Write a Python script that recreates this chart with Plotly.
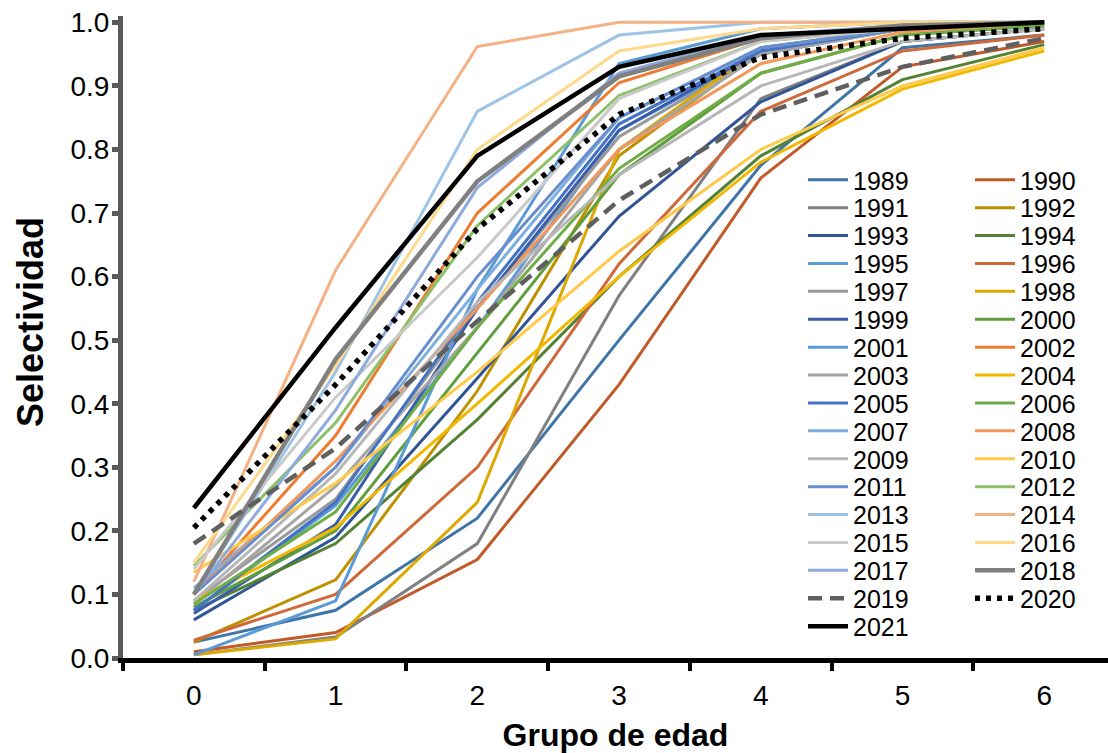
import plotly.graph_objects as go

# Age groups (x categories)
ages = ["0", "1", "2", "3", "4", "5", "6"]

# Selectivity by age group, one list per year
sel_1989 = [0.025, 0.075, 0.22, 0.50, 0.775, 0.96, 0.98]
sel_1990 = [0.010, 0.040, 0.155, 0.43, 0.755, 0.93, 0.97]
sel_1991 = [0.005, 0.033, 0.18, 0.57, 0.88, 0.97, 0.99]
sel_1992 = [0.025, 0.123, 0.42, 0.79, 0.955, 0.99, 1.0]
sel_1993 = [0.060, 0.19, 0.44, 0.695, 0.875, 0.97, 0.99]
sel_1994 = [0.075, 0.18, 0.375, 0.60, 0.79, 0.91, 0.965]
sel_1995 = [0.075, 0.24, 0.52, 0.83, 0.95, 0.99, 1.0]
sel_1996 = [0.028, 0.10, 0.30, 0.62, 0.86, 0.955, 0.98]
sel_1997 = [0.090, 0.25, 0.55, 0.82, 0.95, 0.99, 1.0]
sel_1998 = [0.005, 0.030, 0.245, 0.80, 0.96, 0.99, 1.0]
sel_1999 = [0.070, 0.21, 0.55, 0.83, 0.955, 0.99, 1.0]
sel_2000 = [0.080, 0.20, 0.48, 0.76, 0.92, 0.98, 0.995]
sel_2001 = [0.005, 0.09, 0.58, 0.935, 0.99, 1.0, 1.0]
sel_2002 = [0.100, 0.35, 0.70, 0.905, 0.975, 0.995, 1.0]
sel_2003 = [0.085, 0.27, 0.52, 0.80, 0.95, 0.99, 1.0]
sel_2004 = [0.090, 0.205, 0.40, 0.60, 0.78, 0.895, 0.955]
sel_2005 = [0.075, 0.245, 0.56, 0.84, 0.955, 0.99, 1.0]
sel_2006 = [0.085, 0.23, 0.52, 0.77, 0.92, 0.98, 0.995]
sel_2007 = [0.110, 0.30, 0.58, 0.85, 0.96, 0.99, 1.0]
sel_2008 = [0.100, 0.31, 0.55, 0.80, 0.935, 0.985, 1.0]
sel_2009 = [0.090, 0.29, 0.56, 0.76, 0.90, 0.97, 0.99]
sel_2010 = [0.135, 0.275, 0.45, 0.64, 0.80, 0.90, 0.96]
sel_2011 = [0.100, 0.30, 0.60, 0.85, 0.96, 0.99, 1.0]
sel_2012 = [0.145, 0.37, 0.68, 0.885, 0.97, 0.99, 1.0]
sel_2013 = [0.100, 0.45, 0.86, 0.98, 1.0, 1.0, 1.0]
sel_2014 = [0.120, 0.61, 0.962, 1.0, 1.0, 1.0, 1.0]
sel_2015 = [0.140, 0.41, 0.63, 0.88, 0.97, 0.99, 1.0]
sel_2016 = [0.150, 0.46, 0.80, 0.955, 0.99, 1.0, 1.0]
sel_2017 = [0.100, 0.39, 0.74, 0.92, 0.98, 0.995, 1.0]
sel_2018 = [0.100, 0.47, 0.75, 0.915, 0.975, 0.995, 1.0]
sel_2019 = [0.180, 0.33, 0.53, 0.72, 0.855, 0.93, 0.975]
sel_2020 = [0.205, 0.43, 0.675, 0.855, 0.945, 0.975, 0.99]
sel_2021 = [0.236, 0.52, 0.79, 0.93, 0.98, 0.99, 1.0]

years = list(range(1989, 2022))
values = [globals()[f"sel_{y}"] for y in years]

colors = {
    1989: "#3E75A8", 1990: "#C05A28", 1991: "#808080", 1992: "#BF9000",
    1993: "#2F5597", 1994: "#548235", 1995: "#5B9BD5", 1996: "#D0693A",
    1997: "#999999", 1998: "#DDA800", 1999: "#3A5DAE", 2000: "#5E9E3C",
    2001: "#5B9BD5", 2002: "#ED7D31", 2003: "#A5A5A5", 2004: "#F2B800",
    2005: "#4472C4", 2006: "#70AD47", 2007: "#7CAFDD", 2008: "#F1975A",
    2009: "#B7B7B7", 2010: "#FFC94A", 2011: "#698ED0", 2012: "#8CC168",
    2013: "#9DC3E6", 2014: "#F4B183", 2015: "#C9C9C9", 2016: "#FFD98A",
    2017: "#8FAADC", 2018: "#808080", 2019: "#5F5F5F", 2020: "#000000",
    2021: "#000000",
}

FONT = "Liberation Sans, Arial, sans-serif"

# Plot-area geometry (pixels) used to place the two-column legend rows
PLOT_TOP, PLOT_BOTTOM, PLOT_LEFT, PLOT_RIGHT = 16, 658, 123, 1108
ROW0_Y, ROW_STEP = 180, 27.9
LEG_TEXT_X = 853


def legend_name(row):
    return "legend" if row == 0 else f"legend{row + 1}"


fig = go.Figure()
for y, v in zip(years, values):
    width = 3
    dash = "solid"
    if y == 2018:
        width = 4.5
    elif y == 2019:
        width = 4.5
        dash = "14px,8px"
    elif y == 2020:
        width = 5.5
        dash = "5px,6px"
    elif y == 2021:
        width = 4.5
    row = (y - 1989) // 2
    fig.add_trace(go.Scatter(
        x=ages, y=v, mode="lines", name=str(y),
        line=dict(color=colors[y], width=width, dash=dash),
        legend=legend_name(row),
    ))

n_rows = (len(years) + 1) // 2
legends = {}
for row in range(n_rows):
    ypx = ROW0_Y + ROW_STEP * row
    legends[legend_name(row)] = dict(
        orientation="h",
        x=(LEG_TEXT_X - 50 - PLOT_LEFT) / (PLOT_RIGHT - PLOT_LEFT),
        y=(PLOT_BOTTOM - ypx) / (PLOT_BOTTOM - PLOT_TOP),
        xanchor="left", yanchor="middle",
        font=dict(family=FONT, size=25, color="#000000"),
        bgcolor="rgba(0,0,0,0)", borderwidth=0,
        entrywidth=112, entrywidthmode="pixels",
        itemwidth=40,
    )

fig.update_layout(
    width=1108, height=753,
    margin=dict(l=PLOT_LEFT, r=0, t=PLOT_TOP, b=753 - PLOT_BOTTOM,
                autoexpand=False),
    paper_bgcolor="white", plot_bgcolor="white",
    font=dict(family=FONT, size=26, color="#000000"),
    xaxis=dict(
        type="category", range=[-0.5, 6.45],
        tickson="boundaries", ticks="outside", ticklen=8, tickwidth=4,
        tickcolor="#000000",
        showline=True, linecolor="#000000", linewidth=5,
        showgrid=False, zeroline=False,
        tickfont=dict(family=FONT, size=28, color="#000000"),
        ticklabelstandoff=8,
        title=dict(text="<b>Grupo de edad</b>", font=dict(family=FONT, size=32),
                   standoff=24),
    ),
    yaxis=dict(
        range=[0, 1.01], tickvals=[i / 10 for i in range(11)],
        ticktext=[f"{i / 10:.1f}" for i in range(11)],
        ticks="outside", ticklen=6, tickwidth=5, tickcolor="#595959",
        showline=True, linecolor="#595959", linewidth=5,
        showgrid=False, zeroline=False,
        tickfont=dict(family=FONT, size=28, color="#000000"),
        ticklabelstandoff=-3,
    ),
    annotations=[dict(
        text="<b>Selectividad</b>", textangle=-90,
        xref="paper", yref="paper",
        x=(30 - PLOT_LEFT) / (PLOT_RIGHT - PLOT_LEFT),
        y=(PLOT_BOTTOM - 322) / (PLOT_BOTTOM - PLOT_TOP),
        xanchor="center", yanchor="middle", showarrow=False,
        font=dict(family=FONT, size=36, color="#000000"),
    )],
    **legends,
)

fig.write_html("out.html")
